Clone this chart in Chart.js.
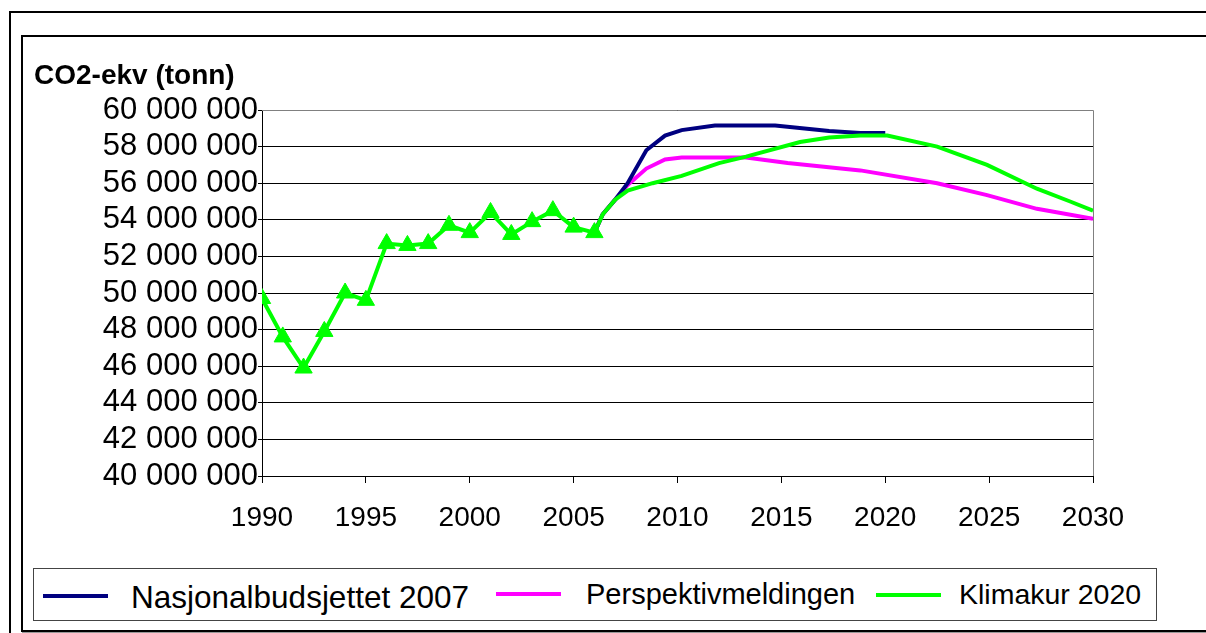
<!DOCTYPE html>
<html>
<head>
<meta charset="utf-8">
<script src="https://cdn.jsdelivr.net/npm/chart.js@4.4.1/dist/chart.umd.min.js"></script>
<style>
  body { margin: 0; background: #fff; font-family: "Liberation Sans", Arial, sans-serif; }
  #wrap { position: relative; width: 1206px; height: 633px; overflow: hidden; }
  .frame { position: absolute; border: 2px solid #000; box-shadow: 1px 1px 0 #999; }
  #outer { left: 9px; top: 11px; width: 1220px; height: 640px; }
  #inner { left: 21px; top: 35px; width: 1210px; height: 593px; }
  #chart { position: absolute; left: 0; top: 0; }
  #ytitle { position: absolute; left: 34px; top: 59px; font-weight: bold; font-size: 28px; color: #000; }
  #legend { position: absolute; left: 33px; top: 568px; width: 1122px; height: 51px; border: 1px solid #444; background: #fff; }
  .swatch { position: absolute; height: 4px; width: 65px; }
  .ltext { position: absolute; color: #000; white-space: nowrap; line-height: 1; }
</style>
</head>
<body>
<div id="wrap">
  <div class="frame" id="outer"></div>
  <div class="frame" id="inner"></div>
  <canvas id="chart" width="1206" height="633"></canvas>
  <div id="ytitle">CO2-ekv (tonn)</div>
  <div id="legend">
    <div class="swatch" style="left:9px; top:25px; background:#000080"></div>
    <div class="ltext" style="left:97px; top:13px; font-size:31.5px">Nasjonalbudsjettet 2007</div>
    <div class="swatch" style="left:462px; top:23px; background:#ff00ff"></div>
    <div class="ltext" style="left:552px; top:11px; font-size:29px">Perspektivmeldingen</div>
    <div class="swatch" style="left:842px; top:24px; background:#00ff00"></div>
    <div class="ltext" style="left:925px; top:11px; font-size:28.5px">Klimakur 2020</div>
  </div>
</div>
<script>
// values in million tonnes CO2-equivalents
const klimakurYears = [1990, 1991, 1992, 1993, 1994, 1995, 1996, 1997, 1998, 1999, 2000, 2001, 2002, 2003, 2004, 2005, 2006,
  2006.4, 2007, 2007.6, 2008.8, 2010.2, 2012, 2013.3, 2015.9, 2017.3, 2018.8, 2020.1, 2022.5, 2024.9, 2027.3, 2028.9, 2030];
const klimakurValues = [49.7, 47.6, 45.9, 47.9, 50.0, 49.6, 52.7, 52.6, 52.7, 53.7, 53.3, 54.4, 53.2, 53.9, 54.5, 53.6, 53.3,
  54.3, 55.1, 55.6, 56.0, 56.4, 57.1, 57.45, 58.25, 58.5, 58.6, 58.6, 58.0, 57.0, 55.7, 55.0, 54.5];

const nasjonalYears = [2006, 2006.4, 2007, 2007.6, 2008.5, 2009.4, 2010.2, 2011.8, 2014.7, 2017.3, 2018.8, 2020];
const nasjonalValues = [53.3, 54.3, 55.1, 56.0, 57.8, 58.6, 58.9, 59.15, 59.15, 58.85, 58.75, 58.75];

const perspektivYears = [2006, 2006.4, 2007, 2007.6, 2008.5, 2009.4, 2010.2, 2013.3, 2015.3, 2018.8, 2022.5, 2024.9, 2027.3, 2030];
const perspektivValues = [53.3, 54.3, 55.1, 55.9, 56.8, 57.3, 57.4, 57.4, 57.1, 56.7, 56.0, 55.35, 54.6, 54.05];

const xTickLabels = ["1990", "1995", "2000", "2005", "2010", "2015", "2020", "2025", "2030"];
const yTickLabels = ["40 000 000", "42 000 000", "44 000 000", "46 000 000", "48 000 000", "50 000 000",
  "52 000 000", "54 000 000", "56 000 000", "58 000 000", "60 000 000"];

const lastMeasured = 2006;

const toPoints = (xs, ys) => xs.map((x, i) => ({ x: x, y: ys[i] }));

const plotFrame = {
  id: "plotFrame",
  beforeDatasetsDraw(chart) {
    const a = chart.chartArea, ctx = chart.ctx;
    ctx.save();
    ctx.strokeStyle = "#808080";
    ctx.lineWidth = 1;
    ctx.beginPath();
    ctx.moveTo(a.left, a.top + 0.5);
    ctx.lineTo(a.right + 0.5, a.top + 0.5);
    ctx.lineTo(a.right + 0.5, a.bottom);
    ctx.stroke();
    ctx.restore();
  }
};

const ctx = document.getElementById("chart").getContext("2d");

new Chart(ctx, {
  type: "line",
  data: {
    datasets: [
      {
        label: "Klimakur 2020",
        data: toPoints(klimakurYears, klimakurValues),
        borderColor: "#00ff00",
        backgroundColor: "#00ff00",
        borderWidth: 4,
        pointStyle: "triangle",
        pointRadius: (c) => (c.raw && c.raw.x <= lastMeasured ? 10 : 0),
        pointBorderWidth: 1,
        tension: 0,
      },
      {
        label: "Nasjonalbudsjettet 2007",
        data: toPoints(nasjonalYears, nasjonalValues),
        borderColor: "#000080",
        backgroundColor: "#000080",
        borderWidth: 4,
        pointRadius: 0,
        tension: 0,
      },
      {
        label: "Perspektivmeldingen",
        data: toPoints(perspektivYears, perspektivValues),
        borderColor: "#ff00ff",
        backgroundColor: "#ff00ff",
        borderWidth: 4,
        pointRadius: 0,
        tension: 0,
      },
    ],
  },
  options: {
    responsive: false,
    animation: false,
    layout: { padding: { left: 0, right: 113, top: 110, bottom: 97 } },
    plugins: {
      legend: { display: false },
      tooltip: { enabled: false },
    },
    scales: {
      x: {
        type: "linear",
        min: 1990,
        max: 2030,
        afterFit: (s) => { s.height = 60; },
        ticks: {
          stepSize: 5,
          color: "#000",
          padding: 18,
          maxRotation: 0,
          font: { family: "Liberation Sans", size: 28 },
          callback: (v) => xTickLabels[(v - 1990) / 5],
        },
        grid: { drawOnChartArea: false, drawTicks: true, tickLength: 7, color: "#000" },
        border: { display: true, color: "#000", width: 1 },
      },
      y: {
        min: 40,
        max: 60,
        afterFit: (s) => { s.width = 262; },
        ticks: {
          stepSize: 2,
          autoSkip: false,
          color: "#000",
          padding: 0,
          font: { family: "Liberation Sans", size: 31 },
          callback: (v) => yTickLabels[(v - 40) / 2],
        },
        grid: { color: "#000", lineWidth: 1, tickLength: 4 },
        border: { display: true, color: "#000", width: 1 },
      },
    },
  },
  plugins: [plotFrame],
});
</script>
</body>
</html>
